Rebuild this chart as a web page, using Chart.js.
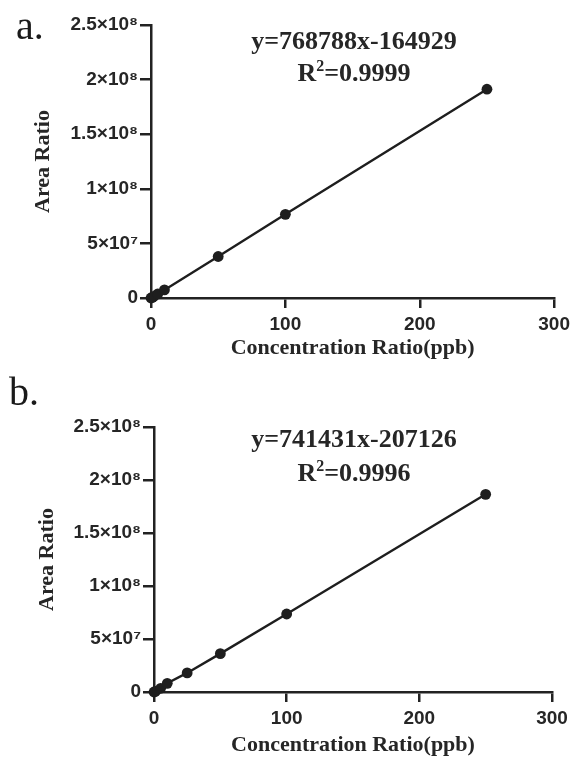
<!DOCTYPE html>
<html>
<head>
<meta charset="utf-8">
<script src="https://cdn.jsdelivr.net/npm/chart.js@4.4.1/dist/chart.umd.min.js"></script>
<style>
  body { margin: 0; background: #fff; }
  #page { position: relative; width: 575px; height: 759px; overflow: hidden; }
  .box { position: absolute; left: 0; width: 575px; }
  .panel { position: absolute; font-family: "Liberation Serif", "Times New Roman", serif; font-size: 40px; color: #1a1a1a; line-height: 1; }
  .eq { position: absolute; width: 300px; text-align: center; font-family: "Liberation Serif", "Times New Roman", serif; font-weight: bold; font-size: 26px; color: #262626; line-height: 1; }
  .eq sup { font-size: 16px; vertical-align: 10px; line-height: 0; }
</style>
</head>
<body>
<div id="page">
  <div class="box" style="top:0;height:362px"><canvas id="chartA"></canvas></div>
  <div class="box" style="top:362px;height:397px"><canvas id="chartB"></canvas></div>
  <div class="panel" style="left:16px;top:6px">a.</div>
  <div class="panel" style="left:9px;top:372px">b.</div>
  <div class="eq" style="left:204px;top:28px">y=768788x-164929</div>
  <div class="eq" style="left:204px;top:60px">R<sup>2</sup>=0.9999</div>
  <div class="eq" style="left:204px;top:426px">y=741431x-207126</div>
  <div class="eq" style="left:204px;top:460px">R<sup>2</sup>=0.9996</div>
</div>
<script>
// data
const concA = [0, 1, 2, 5, 10, 50, 100, 250];
const areaA = [0, 0.6e6, 1.4e6, 3.7e6, 7.4e6, 3.8e7, 7.66e7, 1.912e8];

const concB = [0, 1, 5, 10, 25, 50, 100, 250];
const areaB = [0, 0.5e6, 3.5e6, 8.2e6, 1.8e7, 3.62e7, 7.36e7, 1.865e8];

const yTickValues = [0, 5e7, 1e8, 1.5e8, 2e8, 2.5e8];
const yTickLabels = ['0', '5×10⁷', '1×10⁸', '1.5×10⁸', '2×10⁸', '2.5×10⁸'];
const xTickValues = [0, 100, 200, 300];
const xTickLabels = ['0', '100', '200', '300'];

const ink = '#1e1e1e';
const axisGrey = '#222';

function makeChart(id, xs, ys, pad, yWidth, xHeight, yTitlePad) {
  const pts = xs.map((x, i) => ({ x: x, y: ys[i] }));
  return new Chart(document.getElementById(id), {
    type: 'scatter',
    data: {
      datasets: [{
        data: pts,
        showLine: true,
        borderColor: ink,
        borderWidth: 2.4,
        backgroundColor: ink,
        pointRadius: 5.4,
        pointBorderWidth: 0,
        clip: false
      }]
    },
    options: {
      responsive: true,
      maintainAspectRatio: false,
      animation: false,
      layout: { padding: pad },
      plugins: { legend: { display: false }, tooltip: { enabled: false } },
      scales: {
        x: {
          type: 'linear',
          min: 0, max: 300,
          afterFit: s => { s.height = xHeight; },
          afterBuildTicks: s => { s.ticks = xTickValues.map(v => ({ value: v })); },
          border: { display: true, color: axisGrey, width: 2.5 },
          grid: { display: true, drawOnChartArea: false, drawTicks: true, tickLength: 10, color: axisGrey, lineWidth: 2.5 },
          ticks: {
            color: '#262626', padding: 5,
            font: { family: '"Liberation Sans", Arial, sans-serif', weight: 'bold', size: 19 },
            callback: (v) => xTickLabels[xTickValues.indexOf(v)]
          },
          title: {
            display: true, text: 'Concentration Ratio(ppb)', color: '#262626',
            padding: { top: 0, bottom: 0 },
            font: { family: '"Liberation Serif", "Times New Roman", serif', weight: 'bold', size: 22 }
          }
        },
        y: {
          type: 'linear',
          min: 0, max: 2.5e8,
          afterFit: s => { s.width = yWidth; },
          afterBuildTicks: s => { s.ticks = yTickValues.map(v => ({ value: v })); },
          border: { display: true, color: axisGrey, width: 2.5 },
          grid: { display: true, drawOnChartArea: false, drawTicks: true, tickLength: 11, color: axisGrey, lineWidth: 2.5 },
          ticks: {
            color: '#262626', padding: 2,
            font: { family: '"Liberation Sans", Arial, sans-serif', weight: 'bold', size: 19 },
            callback: (v) => yTickLabels[yTickValues.indexOf(v)]
          },
          title: {
            display: true, text: 'Area Ratio', color: '#262626',
            padding: { top: yTitlePad, bottom: 0 },
            font: { family: '"Liberation Serif", "Times New Roman", serif', weight: 'bold', size: 22 }
          }
        }
      }
    }
  });
}

makeChart('chartA', concA, areaA, { top: 25, right: 19, left: 0, bottom: 0 }, 151, 64, 30);
makeChart('chartB', concB, areaB, { top: 65, right: 23, left: 0, bottom: 0 }, 154, 67, 34);
</script>
</body>
</html>
